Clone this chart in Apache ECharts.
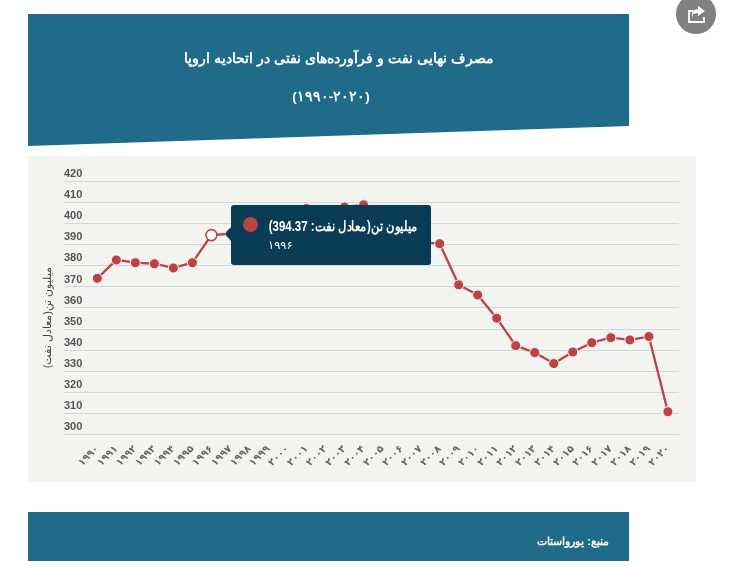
<!DOCTYPE html>
<html><head><meta charset="utf-8">
<style>html,body{margin:0;padding:0;background:#fff}#c{width:733px;height:568px}</style>
<script src="https://cdn.jsdelivr.net/npm/echarts@6/dist/echarts.min.js"></script>
</head><body><div id="c"></div>
<script>
const categories = ['۱۹۹۰','۱۹۹۱','۱۹۹۲','۱۹۹۳','۱۹۹۴','۱۹۹۵','۱۹۹۶','۱۹۹۷','۱۹۹۸','۱۹۹۹','۲۰۰۰','۲۰۰۱','۲۰۰۲','۲۰۰۳','۲۰۰۴','۲۰۰۵','۲۰۰۶','۲۰۰۷','۲۰۰۸','۲۰۰۹','۲۰۱۰','۲۰۱۱','۲۰۱۲','۲۰۱۳','۲۰۱۴','۲۰۱۵','۲۰۱۶','۲۰۱۷','۲۰۱۸','۲۰۱۹','۲۰۲۰'];
const values = [373.9,382.6,381.3,380.8,378.8,381.3,394.37,395,398,400,404,407,406,407.7,408.7,403,398,391,390.3,370.8,366,355,342,338.7,333.5,339,343.4,345.8,344.7,346.3,310.7];
const seriesName = 'میلیون تن(معادل نفت';
const axisName = 'میلیون تن(معادل نفت)';
const titleText = 'مصرف نهایی نفت و فرآورده‌های نفتی در اتحادیه اروپا';
const subtitleText = '(۱۹۹۰-۲۰۲۰)';
const sourceText = 'منبع: یورواستات';
const activeIndex = 6;

const font = '"Liberation Sans", Arial, sans-serif';
const band = '#206a8a', red = '#bd4245', panel = '#f3f3f0';

const chart = echarts.init(document.getElementById('c'), null, {renderer:'canvas'});
chart.setOption({
  animation:false,
  backgroundColor:'#fff',
  textStyle:{fontFamily:font},
  title:[
    {text:titleText,left:334,top:47,textAlign:'center',textStyle:{color:'#fff',fontSize:14,fontWeight:'bold',fontFamily:font}},
    {text:subtitleText,left:326,top:85,textAlign:'center',textStyle:{color:'#fff',fontSize:13.5,fontWeight:'bold',fontFamily:font}},
    {text:sourceText,left:568,top:531,textAlign:'center',textStyle:{color:'#fff',fontSize:11,fontWeight:'bold',fontFamily:font}}
  ],
  graphic:[
    {type:'polygon',z:-10,shape:{points:[[28,14],[629,14],[629,126],[28,146]]},style:{fill:band}},
    {type:'rect',z:-10,shape:{x:28,y:156,width:668,height:326},style:{fill:panel}},
    {type:'rect',z:-10,shape:{x:28,y:512,width:601,height:49},style:{fill:band}},
    {type:'circle',z:-10,shape:{cx:696,cy:14,r:20},style:{fill:'#808080'}},
    {type:'polyline',z:-9,shape:{points:[[693,11],[689,11],[689,22],[704,22],[704,17]]},style:{stroke:'#fff',lineWidth:1.8,fill:null}},
    {type:'polygon',z:-9,shape:{points:[[698,6],[705,11],[698,16],[698,13],[693,14],[692,18],[692,13],[694,10],[698,9]]},style:{fill:'#fff'}}
  ],
  grid:[
    {left:64,top:181,width:615,height:253.3},
    {left:87.8,top:181,width:589.6,height:253.3}
  ],
  xAxis:[
    {gridIndex:0,type:'category',data:categories,show:false},
    {gridIndex:1,type:'category',data:categories,boundaryGap:true,
      axisLine:{show:false},axisTick:{show:false},splitLine:{show:false},
      axisLabel:{interval:0,rotate:45,margin:13,fontSize:10,fontWeight:'bold',color:'#666',fontFamily:'"DejaVu Sans", sans-serif'}}
  ],
  yAxis:[
    {gridIndex:0,type:'value',min:300,max:420,interval:10,
      name:axisName,nameLocation:'middle',nameRotate:90,nameGap:11,
      nameTextStyle:{color:'#444',fontSize:11,fontFamily:font,padding:[0,20,0,0]},
      axisLine:{show:false},axisTick:{show:false},
      axisLabel:{inside:true,margin:0,verticalAlign:'bottom',align:'left',lineHeight:14,fontSize:11,fontWeight:'bold',color:'#555',fontFamily:font},
      splitLine:{show:true,lineStyle:{color:'#c9dae2',width:1}}},
    {gridIndex:1,type:'value',min:300,max:420,interval:10,show:false,splitLine:{show:false}}
  ],
  tooltip:{
    show:true,trigger:'item',triggerOn:'none',alwaysShowContent:true,transitionDuration:0,
    padding:0,borderWidth:0,backgroundColor:'transparent',extraCssText:'box-shadow:none;',
    position:function(){return [225,205];},
    formatter:function(p){
      return '<div style="position:relative;width:200px;height:60px;margin-left:6px;background:#0b3c55;border-radius:3px;color:#fff;font-family:'+"'Liberation Sans',Arial,sans-serif"+';">'
        +'<div style="position:absolute;left:-6px;top:22px;width:0;height:0;border-top:7px solid transparent;border-bottom:7px solid transparent;border-right:6px solid #0b3c55"></div>'
        +'<div style="position:absolute;left:12px;top:12px;width:15px;height:15px;border-radius:50%;background:'+red+'"></div>'
        +'<div dir="rtl" style="position:absolute;right:14px;top:13px;white-space:nowrap;font-size:14px;font-weight:bold;line-height:16px;transform:scaleX(0.82);transform-origin:right center">'+seriesName+': '+p.value+')</div>'
        +'<div style="position:absolute;left:37px;top:33px;font-size:11.5px;line-height:14px;font-family:\'DejaVu Sans\',sans-serif">'+p.name+'</div>'
        +'</div>';
    }
  },
  series:[{
    type:'line',name:seriesName,xAxisIndex:1,yAxisIndex:1,
    data:values.map(function(v,i){
      return i===activeIndex
        ? {value:v,symbolSize:11,itemStyle:{color:'#fff',borderColor:red,borderWidth:1.6}}
        : {value:v};
    }),
    symbol:'circle',symbolSize:10,showSymbol:true,showAllSymbols:true,
    lineStyle:{color:red,width:2.3},
    itemStyle:{color:red,borderColor:panel,borderWidth:1}
  }]
});
chart.dispatchAction({type:'showTip',seriesIndex:0,dataIndex:activeIndex});
</script></body></html>
